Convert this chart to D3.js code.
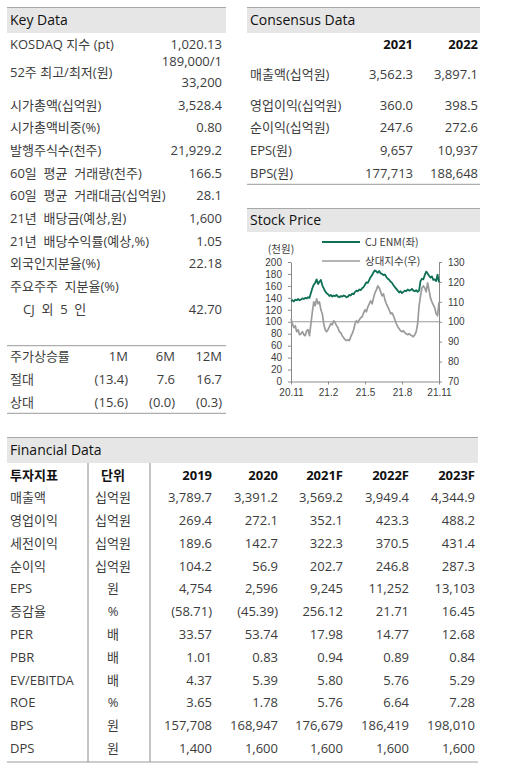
<!DOCTYPE html>
<html><head><meta charset="utf-8">
<script src="https://cdn.jsdelivr.net/npm/d3@7"></script>
<style>
body{margin:0;background:#fff;}
svg{display:block;font-family:"Open Sans","Noto Sans CJK KR",sans-serif;}
</style></head><body>
<svg id="c" width="525" height="769"></svg>
<script>
// ---------------- DATA ----------------
const keyLabels = ["KOSDAQ 지수 (pt)", "52주 최고/최저(원)", "시가총액(십억원)", "시가총액비중(%)", "발행주식수(천주)",
  "60일  평균  거래량(천주)", "60일  평균  거래대금(십억원)", "21년  배당금(예상,원)", "21년  배당수익률(예상,%)",
  "외국인지분율(%)", "주요주주  지분율(%)", "CJ  외  5  인"];
const keyValues = ["1,020.13", "189,000/1|33,200", "3,528.4", "0.80", "21,929.2", "166.5", "28.1", "1,600", "1.05", "22.18", "", "42.70"];

const returnPeriods = ["1M", "6M", "12M"];
const returnLabels = ["절대", "상대"];
const returnAbs = ["(13.4)", "7.6", "16.7"];
const returnRel = ["(15.6)", "(0.0)", "(0.3)"];

const consensusYears = ["2021", "2022"];
const consensusLabels = ["매출액(십억원)", "영업이익(십억원)", "순이익(십억원)", "EPS(원)", "BPS(원)"];
const consensus2021 = ["3,562.3", "360.0", "247.6", "9,657", "177,713"];
const consensus2022 = ["3,897.1", "398.5", "272.6", "10,937", "188,648"];

const finYears = ["2019", "2020", "2021F", "2022F", "2023F"];
const finLabels = ["매출액", "영업이익", "세전이익", "순이익", "EPS", "증감율", "PER", "PBR", "EV/EBITDA", "ROE", "BPS", "DPS"];
const finUnits = ["십억원", "십억원", "십억원", "십억원", "원", "%", "배", "배", "배", "%", "원", "원"];
const finValues = [
  ["3,789.7", "3,391.2", "3,569.2", "3,949.4", "4,344.9"],
  ["269.4", "272.1", "352.1", "423.3", "488.2"],
  ["189.6", "142.7", "322.3", "370.5", "431.4"],
  ["104.2", "56.9", "202.7", "246.8", "287.3"],
  ["4,754", "2,596", "9,245", "11,252", "13,103"],
  ["(58.71)", "(45.39)", "256.12", "21.71", "16.45"],
  ["33.57", "53.74", "17.98", "14.77", "12.68"],
  ["1.01", "0.83", "0.94", "0.89", "0.84"],
  ["4.37", "5.39", "5.80", "5.76", "5.29"],
  ["3.65", "1.78", "5.76", "6.64", "7.28"],
  ["157,708", "168,947", "176,679", "186,419", "198,010"],
  ["1,400", "1,600", "1,600", "1,600", "1,600"]
];

// Stock price (CJ ENM, 천원) and relative index, semi-weekly readings 2020.11 -> 2021.11
const cjenm = [135,136,134,137,136,138,136,137,139,138,140,139,141,140,
  148,156,162,165,171,163,167,170,161,156,151,148,146,143,145,142,144,143,145,142,141,143,142,144,143,141,142,145,144,147,
  146,150,152,151,154,153,156,158,162,166,165,170,175,178,183,186,184,182,185,181,180,178,179,175,172,170,167,165,161,158,
  155,152,149,151,148,150,152,151,154,152,153,155,152,151,153,150,152,168,172,171,178,184,181,177,174,176,170,171,168,179,166];
const relIndex = [101.5,99,97,98,95,96,93.5,94,95,93.5,93,95.5,96,93,
  99,105,110,108,111.5,109,110,106,104,99,96,95,96,97.5,99,98.5,100.5,99.5,98,97,95,94.5,93,92,91,90.5,91,90.5,92.5,94,
  96,99,100.5,99.5,101,102,102.5,104.5,106,105,107.5,109,110.5,109,112,114.5,116,118,117,115,113,114,111,109,107.5,106,104,104.5,
  103,101,99,97.5,96.5,95.5,95,95.5,94.5,94,93.5,94,93.4,93,92.5,93.5,95,99,108,113,117,118,117,115,119.5,116,112,110,108.5,107,104,103,110];
const leftTicks = [0, 20, 40, 60, 80, 100, 120, 140, 160, 180, 200];
const rightTicks = [70, 80, 90, 100, 110, 120, 130];
const xTickLabels = ["20.11", "21.2", "21.5", "21.8", "21.11"];
const legendNames = ["CJ ENM(좌)", "상대지수(우)"];

// ---------------- DRAW ----------------
const svg = d3.select("#c");
const txt = "#3c3c3c", lineC = "#9a9a9a", band = "#e6e6e6";
const chartFont = "Noto Sans CJK KR, sans-serif";
const tickFont = "Liberation Sans, Arial, sans-serif";
svg.append("rect").attr("width", 525).attr("height", 769).attr("fill", "#fff");

function header(x0, x1, y0, y1, title) {
  svg.append("rect").attr("x", x0).attr("y", y0).attr("width", x1 - x0).attr("height", y1 - y0).attr("fill", band);
  svg.append("line").attr("x1", x0).attr("x2", x1).attr("y1", y0 + 0.5).attr("y2", y0 + 0.5).attr("stroke", "#a8a8a8");
  svg.append("text").attr("x", x0 + 3).attr("y", (y0 + y1) / 2).attr("dy", "0.36em")
    .attr("font-size", 14).attr("fill", "#111").text(title);
}
function hline(x0, x1, y) {
  svg.append("line").attr("x1", x0).attr("x2", x1).attr("y1", y).attr("y2", y).attr("stroke", lineC).attr("stroke-width", 1);
}
function T(sel) { return sel.style("white-space", "pre"); }

// Key Data
header(7, 226, 7, 33, "Key Data");
const keyY = i => i === 0 ? 44 : i === 1 ? 72.7 : 105 + (i - 2) * 22.7;
const kg = svg.append("g").attr("font-size", 13).attr("fill", txt);
T(kg.selectAll("text.kl").data(keyLabels).join("text").attr("class", "kl")
  .attr("x", (d, i) => i === keyLabels.length - 1 ? 23 : 10).attr("y", (d, i) => keyY(i)).attr("dy", "0.35em").text(d => d));
keyValues.forEach((v, i) => {
  const parts = v.split("|");
  kg.selectAll(null).data(parts).join("text").attr("text-anchor", "end").attr("x", 222)
    .attr("y", (d, j) => parts.length > 1 ? 61.7 + j * 21 : keyY(i)).attr("dy", "0.35em").text(d => d);
});
hline(7, 226, 345.7);
hline(7, 226, 413.3);
const rx = d3.scaleOrdinal().domain(returnPeriods).range([128, 175, 222]);
const ry = d3.scalePoint().domain(["주가상승률"].concat(returnLabels)).range([356, 402.5]);
kg.append("text").attr("x", 10).attr("y", ry("주가상승률")).attr("dy", "0.35em").text("주가상승률");
kg.selectAll("text.rp").data(returnPeriods).join("text").attr("class", "rp").attr("text-anchor", "end")
  .attr("x", d => rx(d)).attr("y", ry("주가상승률")).attr("dy", "0.35em").text(d => d);
[returnAbs, returnRel].forEach((row, r) => {
  kg.append("text").attr("x", 10).attr("y", ry(returnLabels[r])).attr("dy", "0.35em").text(returnLabels[r]);
  kg.selectAll(null).data(row).join("text").attr("text-anchor", "end")
    .attr("x", (d, j) => rx(returnPeriods[j])).attr("y", ry(returnLabels[r])).attr("dy", "0.35em").text(d => d);
});

// Consensus Data
header(247, 480, 7, 33, "Consensus Data");
const cg = svg.append("g").attr("font-size", 13).attr("fill", txt);
const cx = d3.scaleOrdinal().domain(consensusYears).range([413, 478]);
cg.selectAll("text.cy").data(consensusYears).join("text").attr("class", "cy").attr("text-anchor", "end")
  .attr("x", d => cx(d)).attr("y", 44).attr("dy", "0.35em").attr("font-weight", "bold").attr("font-size", 13).attr("fill", "#111").text(d => d);
const cyY = i => i === 0 ? 74 : 105 + (i - 1) * 22.7;
cg.selectAll("text.cl").data(consensusLabels).join("text").attr("class", "cl")
  .attr("x", 250).attr("y", (d, i) => cyY(i)).attr("dy", "0.35em").text(d => d);
[consensus2021, consensus2022].forEach((col, c) => {
  cg.selectAll(null).data(col).join("text").attr("text-anchor", "end").attr("x", cx(consensusYears[c]))
    .attr("y", (d, i) => cyY(i)).attr("dy", "0.35em").text(d => d);
});
hline(247, 480, 184.3);

// Stock Price
header(247, 480, 208, 232, "Stock Price");
const n = cjenm.length;
const x = d3.scaleLinear().domain([0, n - 1]).range([291, 439]);
const yL = d3.scaleLinear().domain([0, 200]).range([381.5, 262]);
const yR = d3.scaleLinear().domain([70, 130]).range([381.5, 262]);
const ch = svg.append("g");
function styleAxis(g) {
  g.selectAll("path,line").attr("stroke", "#8a8a8a");
  g.selectAll("text").attr("fill", txt).attr("font-size", 10).attr("font-family", tickFont);
}
ch.append("g").attr("transform", "translate(291,0)")
  .call(d3.axisLeft(yL).tickValues(leftTicks).tickSize(3).tickSizeOuter(0).tickPadding(6)).call(styleAxis);
ch.append("g").attr("transform", "translate(439,0)")
  .call(d3.axisRight(yR).tickValues(rightTicks).tickSize(3).tickSizeOuter(0).tickPadding(6)).call(styleAxis);
const xTickIdx = xTickLabels.map((d, i) => i * (n - 1) / (xTickLabels.length - 1));
ch.append("g").attr("transform", "translate(0,381.5)")
  .call(d3.axisBottom(x).tickValues(xTickIdx).tickFormat((d, i) => xTickLabels[i]).tickSize(3).tickSizeOuter(0).tickPadding(4)).call(styleAxis);
ch.append("line").attr("x1", x(0)).attr("x2", x(n - 1)).attr("y1", yR(100)).attr("y2", yR(100)).attr("stroke", "#9a9a9a").attr("stroke-width", 1.2);
ch.append("path").datum(relIndex).attr("fill", "none").attr("stroke", "#9b9b9b").attr("stroke-width", 1.7)
  .attr("stroke-linejoin", "round").attr("d", d3.line().x((d, i) => x(i)).y(d => yR(d)));
ch.append("path").datum(cjenm).attr("fill", "none").attr("stroke", "#0e6f55").attr("stroke-width", 1.8)
  .attr("stroke-linejoin", "round").attr("d", d3.line().x((d, i) => x(i)).y(d => yL(d)));
ch.append("text").attr("x", 281).attr("y", 249).attr("dy", "0.35em").attr("text-anchor", "middle")
  .attr("font-size", 10.5).attr("font-family", chartFont).attr("fill", txt).text("(천원)");
const lg = ch.selectAll("g.lg").data(legendNames).join("g").attr("class", "lg")
  .attr("transform", (d, i) => `translate(0,${242 + i * 19})`);
lg.append("line").attr("x1", 322).attr("x2", 360).attr("stroke", (d, i) => i === 0 ? "#0e6f55" : "#9b9b9b").attr("stroke-width", (d, i) => i === 0 ? 1.8 : 1.3);
lg.append("text").attr("x", 365).attr("dy", "0.35em").attr("font-size", 10.5).attr("font-family", chartFont).attr("fill", txt).text(d => d);

// Financial Data
header(7, 478, 437, 463, "Financial Data");
const fg = svg.append("g").attr("font-size", 13).attr("fill", txt);
const fx = d3.scaleOrdinal().domain(finYears).range([212, 278, 343, 409, 475]);
const fy = d3.scalePoint().domain(["hdr"].concat(finLabels)).range([475, 748.3]);
fg.append("text").attr("x", 10).attr("y", fy("hdr")).attr("dy", "0.35em").attr("font-weight", "bold").attr("fill", "#111").text("투자지표");
fg.append("text").attr("x", 113).attr("y", fy("hdr")).attr("dy", "0.35em").attr("text-anchor", "middle").attr("font-weight", "bold").attr("fill", "#111").text("단위");
fg.selectAll("text.fyr").data(finYears).join("text").attr("class", "fyr").attr("text-anchor", "end")
  .attr("x", d => fx(d)).attr("y", fy("hdr")).attr("dy", "0.35em").attr("font-weight", "bold").attr("fill", "#111").text(d => d);
fg.selectAll("text.fl").data(finLabels).join("text").attr("class", "fl")
  .attr("x", 10).attr("y", d => fy(d)).attr("dy", "0.35em").text(d => d);
fg.selectAll("text.fu").data(finUnits).join("text").attr("class", "fu").attr("text-anchor", "middle")
  .attr("x", 113).attr("y", (d, i) => fy(finLabels[i])).attr("dy", "0.35em").text(d => d);
finValues.forEach((row, r) => {
  fg.selectAll(null).data(row).join("text").attr("text-anchor", "end")
    .attr("x", (d, j) => fx(finYears[j])).attr("y", fy(finLabels[r])).attr("dy", "0.35em").text(d => d);
});
svg.append("line").attr("x1", 88).attr("x2", 88).attr("y1", 463).attr("y2", 762).attr("stroke", "#8a8a8a");
svg.append("line").attr("x1", 150).attr("x2", 150).attr("y1", 463).attr("y2", 762).attr("stroke", "#8a8a8a");
hline(7, 478, 762);
</script>
</body></html>
